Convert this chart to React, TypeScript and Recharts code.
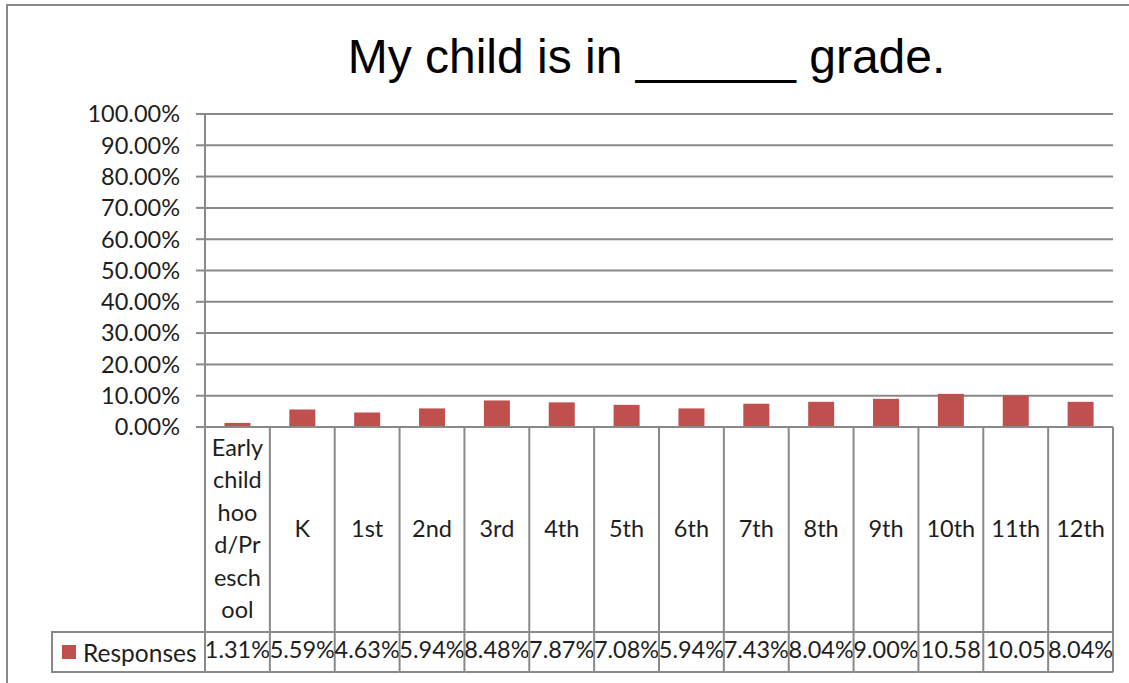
import { BarChart, Bar, XAxis, YAxis, CartesianGrid, Legend } from "recharts";

const categories = [
  "Early childhood/Preschool",
  "K",
  "1st",
  "2nd",
  "3rd",
  "4th",
  "5th",
  "6th",
  "7th",
  "8th",
  "9th",
  "10th",
  "11th",
  "12th",
];

// the long first label breaks up inside its narrow table cell
const categoryLines: string[][] = [["Early", "child", "hoo", "d/Pr", "esch", "ool"]];

const responses = [1.31, 5.59, 4.63, 5.94, 8.48, 7.87, 7.08, 5.94, 7.43, 8.04, 9.0, 10.58, 10.05, 8.04];

// as printed in the data table (the two widest lose their % sign)
const tableLabels = [
  "1.31%",
  "5.59%",
  "4.63%",
  "5.94%",
  "8.48%",
  "7.87%",
  "7.08%",
  "5.94%",
  "7.43%",
  "8.04%",
  "9.00%",
  "10.58",
  "10.05",
  "8.04%",
];

const yTicks = [0, 10, 20, 30, 40, 50, 60, 70, 80, 90, 100];

const data = categories.map((grade, i) => ({ grade, responses: responses[i] }));

const GRAY = "#898989";
const RED = "#C0504D";
const INK = "#1e1e1e";
const FONT = "Lato, 'Open Sans', sans-serif";
const FONT_SIZE = 23.5;

const LABEL_ROW = 205;
const VALUE_ROW = 40;
const LINE_H = 32.4;

const TableCell = (props: any) => {
  const { x, y, width, payload } = props;
  const i = payload.index;
  const bw = width / categories.length;
  const left = x - bw / 2;
  const right = x + bw / 2;
  const lines = categoryLines[i] ?? [payload.value];
  const midBase = y + 110;
  const bottom = y + LABEL_ROW + VALUE_ROW;

  return (
    <g>
      <line x1={left} y1={y} x2={left} y2={bottom} stroke={GRAY} strokeWidth={2} />
      {i === categories.length - 1 && (
        <line x1={right} y1={y} x2={right} y2={bottom} stroke={GRAY} strokeWidth={2} />
      )}
      <line x1={left} y1={y + LABEL_ROW} x2={right} y2={y + LABEL_ROW} stroke={GRAY} strokeWidth={2} />
      <line x1={left} y1={bottom} x2={right} y2={bottom} stroke={GRAY} strokeWidth={2} />
      <text textAnchor="middle" fontFamily={FONT} fontSize={FONT_SIZE} fill={INK}>
        {lines.map((line, k) => (
          <tspan key={k} x={x} y={midBase + (k - (lines.length - 1) / 2) * LINE_H}>
            {line}
          </tspan>
        ))}
      </text>
      <text x={x} y={y + 231} textAnchor="middle" fontFamily={FONT} fontSize={FONT_SIZE} fill={INK}>
        {tableLabels[i]}
      </text>
    </g>
  );
};

const LegendKey = () => (
  <div
    style={{
      display: "flex",
      alignItems: "center",
      width: "100%",
      height: "100%",
      boxSizing: "border-box",
      borderLeft: `2px solid ${GRAY}`,
      borderTop: `2px solid ${GRAY}`,
      borderBottom: `2px solid ${GRAY}`,
      fontFamily: FONT,
      fontSize: 24.5,
      color: INK,
    }}
  >
    <span style={{ width: 14, height: 14, background: RED, margin: "0 7px 0 9px", flex: "none" }} />
    Responses
  </div>
);

export default function App() {
  return (
    <div style={{ position: "absolute", left: 0, top: 0, width: 1129, height: 683, background: "#fff", overflow: "hidden" }}>
      <div
        style={{
          position: "absolute",
          left: 6,
          top: 4,
          width: 1130,
          height: 700,
          borderLeft: `2px solid ${GRAY}`,
          borderTop: `2px solid ${GRAY}`,
        }}
      />
      <div
        style={{
          position: "absolute",
          left: 146,
          top: 33,
          width: 1001,
          textAlign: "center",
          fontFamily: "'Liberation Sans', Arial, sans-serif",
          fontSize: 48,
          lineHeight: "48px",
          color: "#000",
        }}
      >
        My child is in ______ grade.
      </div>
      <BarChart
        width={1129}
        height={683}
        data={data}
        margin={{ top: 114, right: 16, bottom: 0, left: 0 }}
        barCategoryGap="30%"
      >
        <CartesianGrid vertical={false} stroke={GRAY} strokeWidth={2} />
        <XAxis
          dataKey="grade"
          height={256}
          interval={0}
          tickLine={false}
          tickSize={0}
          tickMargin={0}
          axisLine={{ stroke: GRAY, strokeWidth: 2 }}
          tick={<TableCell />}
        />
        <YAxis
          width={205}
          domain={[0, 100]}
          ticks={yTicks}
          interval={0}
          tickSize={9}
          tickMargin={16}
          tickLine={{ stroke: GRAY, strokeWidth: 2 }}
          axisLine={{ stroke: GRAY, strokeWidth: 2 }}
          tickFormatter={(v: number) => `${v.toFixed(2)}%`}
          tick={{ fontFamily: FONT, fontSize: FONT_SIZE, fill: INK }}
        />
        <Legend
          layout="horizontal"
          verticalAlign="middle"
          align="center"
          content={<LegendKey />}
          wrapperStyle={{ left: 51, top: 631, width: 154, height: 42 }}
        />
        <Bar dataKey="responses" fill={RED} isAnimationActive={false} />
      </BarChart>
    </div>
  );
}
